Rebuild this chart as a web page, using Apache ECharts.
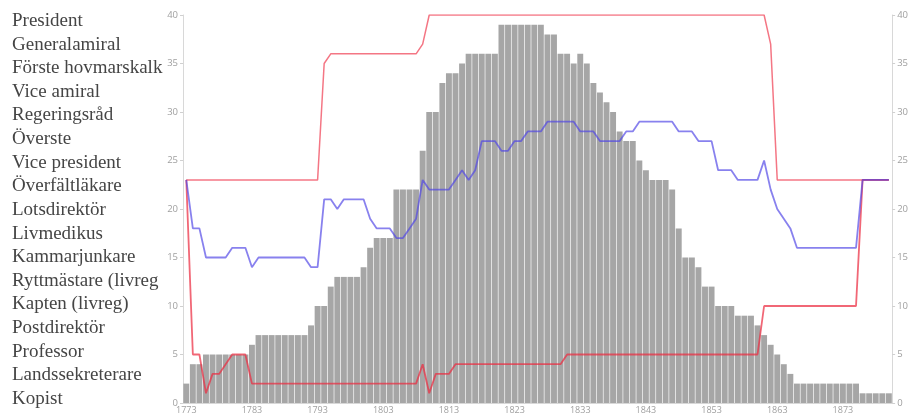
<!DOCTYPE html>
<html>
<head>
<meta charset="utf-8">
<script src="https://cdn.jsdelivr.net/npm/echarts@6/dist/echarts.min.js"></script>
<style>
html,body{margin:0;padding:0;background:#fff;}
#c{width:911px;height:416px;}
</style>
</head>
<body>
<div id="c"></div>
<script>
// Category titles (bottom to top)
const titles = ["Kopist","Landssekreterare","Professor","Postdirektör","Kapten (livreg)","Ryttmästare (livreg","Kammarjunkare","Livmedikus","Lotsdirektör","Överfältläkare","Vice president","Överste","Regeringsråd","Vice amiral","Förste hovmarskalk","Generalamiral","President"];

// Years 1773..1880 (categories)
const startYear = 1773, yearCount = 108;
const years = [];
for (let i = 0; i < yearCount; i++) years.push(String(startYear + i));

// Bar values per year
const counts = [
  2,4,4,5,5,5,5,5,5,5,
  6,7,7,7,7,7,7,7,7,8,
  10,10,12,13,13,13,13,14,16,17,
  17,17,22,22,22,22,26,30,30,33,
  34,34,35,36,36,36,36,36,39,39,
  39,39,39,39,39,38,38,36,36,35,
  36,35,33,32,31,30,28,27,27,25,
  24,23,23,23,22,18,15,15,14,12,
  12,10,10,10,9,9,9,8,7,6,
  5,4,3,2,2,2,2,2,2,2,
  2,2,2,1,1,1,1,1
];

// Upper red line
const upperRed = [
  23,23,23,23,23,23,23,23,23,23,
  23,23,23,23,23,23,23,23,23,23,
  23,35,36,36,36,36,36,36,36,36,
  36,36,36,36,36,36,37,40,40,40,
  40,40,40,40,40,40,40,40,40,40,
  40,40,40,40,40,40,40,40,40,40,
  40,40,40,40,40,40,40,40,40,40,
  40,40,40,40,40,40,40,40,40,40,
  40,40,40,40,40,40,40,40,40,37,
  23,23,23,23,23,23,23,23,23,23,
  23,23,23,23,23,23,23,23
];

// Lower red line
const lowerRed = [
  23,5,5,1,3,3,4,5,5,5,
  2,2,2,2,2,2,2,2,2,2,
  2,2,2,2,2,2,2,2,2,2,
  2,2,2,2,2,2,4,1,3,3,
  3,4,4,4,4,4,4,4,4,4,
  4,4,4,4,4,4,4,4,5,5,
  5,5,5,5,5,5,5,5,5,5,
  5,5,5,5,5,5,5,5,5,5,
  5,5,5,5,5,5,5,5,10,10,
  10,10,10,10,10,10,10,10,10,10,
  10,10,10,23,23,23,23,23
];

// Blue line
const blueLine = [
  23,18,18,15,15,15,15,16,16,16,
  14,15,15,15,15,15,15,15,15,14,
  14,21,21,20,21,21,21,21,19,18,
  18,18,17,17,18,19,23,22,22,22,
  22,23,24,23,24,27,27,27,26,26,
  27,27,28,28,28,29,29,29,29,29,
  28,28,28,27,27,27,27,28,28,29,
  29,29,29,29,29,28,28,28,27,27,
  27,24,24,24,23,23,23,23,25,22,
  20,19,18,16,16,16,16,16,16,16,
  16,16,16,23,23,23,23,23
];

const chart = echarts.init(document.getElementById('c'));
const valueAxisCommon = {
  type: 'value', gridIndex: 0, min: 0, max: 40, interval: 5,
  axisLine: { show: true, lineStyle: { color: '#d8d8d8' } },
  axisTick: { show: true, length: 3, lineStyle: { color: '#d0d0d0' } },
  splitLine: { show: false },
  axisLabel: { color: '#a0a0a0', fontSize: 9.5, margin: 5, fontFamily: 'Open Sans' }
};
chart.setOption({
  animation: false,
  grid: [
    { left: 183, right: 12, top: 15, bottom: 13 },
    { left: 183, right: 12, top: 21, bottom: 17 }
  ],
  xAxis: [
    {
      type: 'category', gridIndex: 0, data: years, boundaryGap: true,
      axisLine: { show: true, lineStyle: { color: '#d8d8d8' } },
      axisTick: { show: false },
      axisLabel: { interval: 9, color: '#a0a0a0', fontSize: 9, margin: 3, fontFamily: 'Open Sans' }
    },
    { type: 'value', gridIndex: 1, show: false, min: 0, max: 1 }
  ],
  yAxis: [
    Object.assign({}, valueAxisCommon, { position: 'left' }),
    Object.assign({}, valueAxisCommon, { position: 'right' }),
    {
      type: 'category', gridIndex: 1, data: titles, boundaryGap: false,
      axisLine: { show: false }, axisTick: { show: false }, splitLine: { show: false },
      axisLabel: { interval: 0, align: 'left', margin: 171, fontFamily: 'Liberation Serif', fontSize: 19, color: '#454545' }
    }
  ],
  series: [
    {
      type: 'bar', xAxisIndex: 0, yAxisIndex: 0, data: counts,
      barCategoryGap: '10%',
      itemStyle: { color: '#a6a6a6' }
    },
    {
      type: 'line', xAxisIndex: 0, yAxisIndex: 0, data: upperRed,
      showSymbol: false, symbol: 'none',
      lineStyle: { color: 'rgba(240,60,80,0.7)', width: 1.5 }
    },
    {
      type: 'line', xAxisIndex: 0, yAxisIndex: 0, data: lowerRed,
      showSymbol: false, symbol: 'none',
      lineStyle: { color: 'rgba(235,45,65,0.72)', width: 1.8 }
    },
    {
      type: 'line', xAxisIndex: 0, yAxisIndex: 0, data: blueLine,
      showSymbol: false, symbol: 'none',
      lineStyle: { color: 'rgba(80,70,230,0.68)', width: 1.8 }
    }
  ]
});
</script>
</body>
</html>
